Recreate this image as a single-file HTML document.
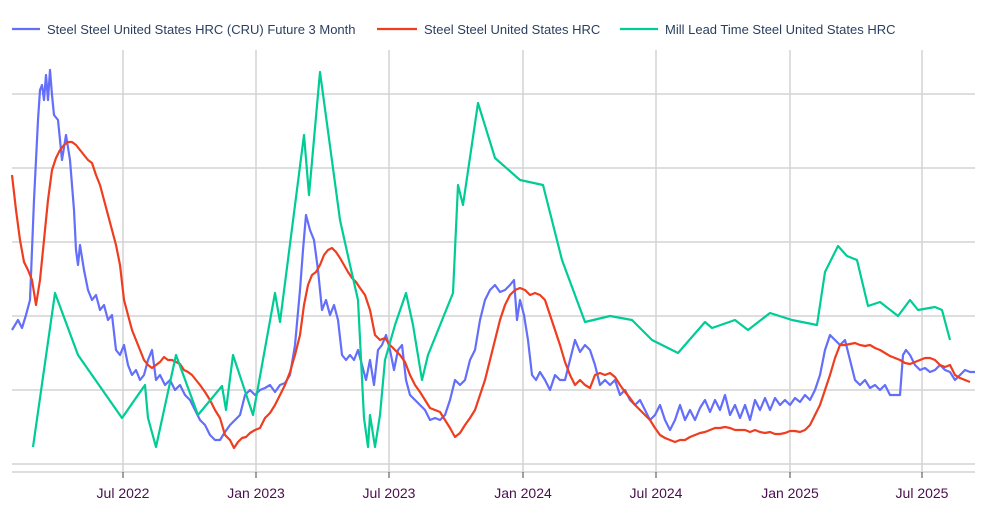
<!DOCTYPE html><html><head><style>body{margin:0;background:#fff}svg{display:block;font-family:"Liberation Sans",Arial,sans-serif}</style></head><body>
<svg width="1000" height="524" xmlns="http://www.w3.org/2000/svg">
<g stroke="#d4d4d4" stroke-width="1.5">
<line x1="12" x2="975" y1="94" y2="94"/><line x1="12" x2="975" y1="168" y2="168"/><line x1="12" x2="975" y1="242" y2="242"/><line x1="12" x2="975" y1="316" y2="316"/><line x1="12" x2="975" y1="390" y2="390"/><line x1="12" x2="975" y1="464" y2="464"/><line x1="12" x2="975" y1="472" y2="472"/>
<line x1="123" x2="123" y1="50" y2="472"/><line x1="256" x2="256" y1="50" y2="472"/><line x1="389" x2="389" y1="50" y2="472"/><line x1="523" x2="523" y1="50" y2="472"/><line x1="656" x2="656" y1="50" y2="472"/><line x1="790" x2="790" y1="50" y2="472"/><line x1="922" x2="922" y1="50" y2="472"/>
</g>
<g stroke="#444" stroke-width="1"><line x1="123" x2="123" y1="472" y2="478"/><line x1="256" x2="256" y1="472" y2="478"/><line x1="389" x2="389" y1="472" y2="478"/><line x1="523" x2="523" y1="472" y2="478"/><line x1="656" x2="656" y1="472" y2="478"/><line x1="790" x2="790" y1="472" y2="478"/><line x1="922" x2="922" y1="472" y2="478"/></g>
<g fill="#4a0e4e" font-size="14" text-anchor="middle"><text x="123" y="498">Jul 2022</text><text x="256" y="498">Jan 2023</text><text x="389" y="498">Jul 2023</text><text x="523" y="498">Jan 2024</text><text x="656" y="498">Jul 2024</text><text x="790" y="498">Jan 2025</text><text x="922" y="498">Jul 2025</text></g>
<g fill="none" stroke-width="2.2" stroke-linejoin="round">
<polyline stroke="#636efa" points="12,330 18,320 22,328 26,315 30,300 34,200 38,120 40,90 42,85 44,100 46,75 48,100 50,70 52,95 54,115 58,120 62,160 66,135 70,160 74,210 76,250 78,265 80,245 84,270 88,290 92,300 96,295 100,310 104,305 108,320 112,315 116,350 120,355 124,345 128,365 132,375 136,370 140,380 144,375 148,360 152,350 156,380 160,375 165,385 170,380 175,390 180,385 185,395 190,400 195,410 200,420 205,425 210,435 215,440 220,440 225,432 230,425 235,420 240,415 245,395 250,390 255,395 260,390 265,388 270,385 275,392 280,385 285,383 290,375 295,345 300,290 303,250 306,215 310,230 314,240 318,270 322,310 326,300 330,315 334,305 338,320 342,355 346,360 350,355 354,360 358,350 362,365 366,380 370,360 374,385 378,350 382,345 386,335 390,350 394,370 398,350 402,345 406,380 410,395 415,400 420,405 425,410 430,420 435,418 440,420 445,415 450,400 455,380 460,385 465,380 470,360 475,350 480,320 485,300 490,290 495,285 500,292 505,290 510,285 514,280 517,320 520,300 524,315 528,340 532,375 536,380 540,372 545,380 550,390 555,375 560,380 565,380 570,360 575,340 580,352 585,345 590,350 595,365 600,385 605,380 610,385 615,380 620,395 625,390 630,400 635,405 640,400 645,410 650,420 655,415 660,405 665,420 670,430 675,420 680,405 685,420 690,410 695,420 700,408 705,400 710,412 715,400 720,410 725,395 730,415 735,405 740,418 745,405 750,420 755,400 760,410 765,398 770,410 775,398 780,405 785,400 790,405 795,398 800,402 805,395 810,400 815,390 820,375 825,350 830,335 835,340 840,345 845,340 850,360 855,380 860,385 865,380 870,388 875,385 880,390 885,385 890,395 895,395 900,395 903,355 906,350 910,355 915,365 920,370 925,368 930,372 935,370 940,365 945,370 950,372 955,380 960,375 965,370 970,372 975,372"/>
<polyline stroke="#ef3d1f" points="12,175 16,210 20,240 24,262 28,270 32,280 36,305 40,280 44,240 48,200 52,170 56,158 60,150 64,145 68,142 72,142 76,145 80,150 84,155 88,160 92,163 96,175 100,185 104,200 108,215 112,230 116,245 120,265 124,300 128,315 132,330 136,340 140,350 144,360 148,365 152,368 156,365 160,362 164,357 168,360 172,360 176,362 180,364 184,370 188,372 192,375 196,380 200,385 205,392 210,400 215,410 220,418 225,435 230,440 234,448 238,442 242,438 246,437 250,433 255,430 260,428 265,418 270,413 275,405 280,395 285,385 290,372 295,355 300,335 304,305 308,285 312,275 316,272 320,265 324,255 328,250 332,248 336,252 340,258 344,265 348,272 352,278 356,282 360,288 365,295 370,310 375,335 380,340 385,338 390,345 395,350 400,355 405,362 410,375 415,385 420,392 425,400 430,408 435,410 440,412 445,420 450,428 455,437 460,433 465,425 470,418 475,410 480,395 485,380 490,360 495,340 500,320 505,305 510,295 515,290 520,288 525,290 530,295 535,293 540,295 545,300 550,315 555,330 560,345 565,362 570,375 575,385 580,380 585,385 590,388 595,375 600,373 605,375 610,373 615,377 620,385 625,392 630,398 635,405 640,410 645,415 650,420 655,428 660,435 665,438 670,440 675,442 680,440 685,440 690,437 695,435 700,433 705,432 710,430 715,428 720,428 725,427 730,428 735,430 740,430 745,430 750,432 755,430 760,432 765,433 770,432 775,434 780,434 785,433 790,431 795,431 800,432 805,430 810,425 815,415 820,405 825,390 830,375 835,358 840,345 845,345 850,344 855,343 860,345 865,346 870,345 875,348 880,350 885,353 890,356 895,358 900,360 905,363 910,364 915,362 920,360 925,358 930,358 935,360 940,365 945,367 950,365 955,375 960,378 965,380 970,382"/>
<polyline stroke="#00cc96" points="33,447 55,293 78,355 122,418 145,385 148,418 156,447 176,355 198,415 222,386 226,410 233,355 253,415 275,293 280,322 304,135 309,195 320,72 340,220 350,265 358,300 364,418 368,447 370,415 375,447 380,415 385,360 395,325 406,293 413,325 422,380 428,355 453,293 458,185 463,205 478,103 495,158 520,180 543,185 562,260 585,322 610,316 632,320 652,340 678,353 705,322 712,328 735,320 748,330 770,313 792,320 817,325 825,272 838,246 847,256 857,260 868,306 880,302 898,316 910,300 918,310 935,307 942,310 950,340"/>
</g>
<g stroke-width="2.2"><line x1="12" x2="40" y1="29" y2="29" stroke="#636efa"/><line x1="377" x2="417" y1="29" y2="29" stroke="#ef3d1f"/><line x1="620" x2="658" y1="29" y2="29" stroke="#00cc96"/></g>
<g fill="#2a3f5f" font-size="13"><text x="47" y="34">Steel Steel United States HRC (CRU) Future 3 Month</text><text x="424" y="34">Steel Steel United States HRC</text><text x="665" y="34">Mill Lead Time Steel United States HRC</text></g>
</svg></body></html>
